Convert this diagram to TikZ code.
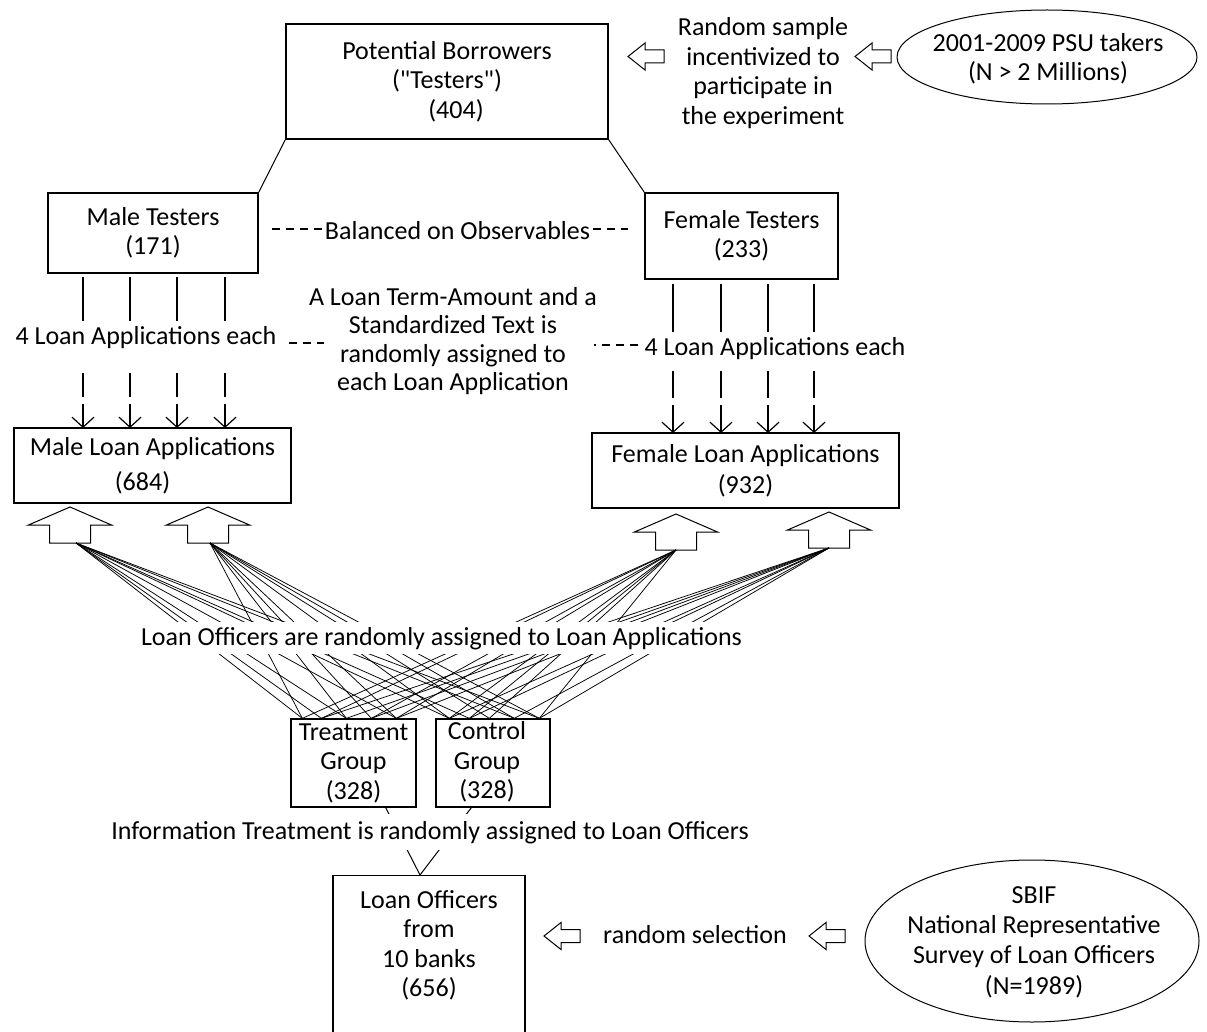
\documentclass[tikz,border=0pt]{standalone}
\usepackage{fontspec}
\setmainfont{Carlito}[Ligatures=TeXOff]
\usetikzlibrary{arrows.meta,shapes.geometric}
\begin{document}
\begin{tikzpicture}[x=1pt,y=-1pt,
  every node/.style={font=\fontsize{26}{29.5}\selectfont, inner sep=0pt, align=center},
  box/.style={draw, line width=1.3pt},
  oval/.style={draw, ellipse, line width=1pt},
  link/.style={line width=1pt},
  fan/.style={line width=0.75pt},
  dsh/.style={line width=1.2pt, dash pattern=on 8pt off 6pt},
  solidv/.style={line width=1.2pt},
  barb/.style={-{Straight Barb[length=10pt,width=22pt]}},
  dashvm/.style={line width=1.2pt, barb, dash pattern=on 24pt off 7pt},
  dashvf/.style={line width=1.2pt, barb, dash pattern=on 27pt off 7pt},
  cover/.style={fill=white, inner xsep=2pt},
  uparr/.pic={\draw[line width=1pt,fill=white] (0,0) -- (41.5,18) -- (20.5,18) -- (20.5,36) -- (-20.5,36) -- (-20.5,18) -- (-41.5,18) -- cycle; \coordinate (-bot) at (0,36);},
  leftarr/.pic={\draw[line width=1pt,fill=white] (0,0) -- (17,-13.5) -- (17,-6.5) -- (36,-6.5) -- (36,6.5) -- (17,6.5) -- (17,13.5) -- cycle;}
]
\useasboundingbox (0,0) rectangle (1207,1032);

% top row
\node[box, minimum width=322, minimum height=115] (pb) at (447,81.5) {Potential Borrowers\\("Testers")\\\hspace*{18pt}(404)};
\node (rs) at (763,73) {Random sample\\incentivized to\\participate in\\the experiment};
\node[oval, minimum width=300, minimum height=94] (psu) at (1047,57) {};
\node (psutext) at (1048,59) {2001-2009 PSU takers\\(N > 2 Millions)};
\pic at (628,56.5) {leftarr};
\pic at (855,56.5) {leftarr};

% testers
\node[box, minimum width=210, minimum height=80] (male) at (153,233) {Male Testers\\(171)};
\node[box, minimum width=193, minimum height=86] (female) at (741.5,236) {Female Testers\\(233)};
\draw[link] (pb.south west) -- (male.north east);
\draw[link] (pb.south east) -- (female.north west);
\node (bal) at (457.5,231) {Balanced on Observables};
\draw[dsh] ([xshift=-3pt,yshift=2pt]bal.west) -- ([xshift=11pt,yshift=2pt]bal.west -| male.east);
\draw[dsh] ([xshift=3pt,yshift=2pt]bal.east) -- ([xshift=-16pt,yshift=2pt]bal.east -| female.west);

% loan application boxes
\node[box, minimum width=277, minimum height=75, font=\fontsize{26}{35}\selectfont] (mla) at (152.5,465.5) {Male Loan Applications\\(684)\hspace*{20pt}};
\node[box, minimum width=307, minimum height=75, font=\fontsize{26}{31}\selectfont] (fla) at (745.5,470.5) {Female Loan Applications\\(932)};

\node (mlab) at (146,338) {4 Loan Applications each};
\node (flab) at (775,349) {4 Loan Applications each};
\node[font=\fontsize{26}{28.5}\selectfont] (mid) at (453,341) {A Loan Term-Amount and a\\Standardized Text is\\randomly assigned to\\each Loan Application};
\draw[dsh] ([xshift=12pt,yshift=-5pt]mlab.east) -- ([xshift=47pt,yshift=-5pt]mlab.east);
\draw[dsh] ([xshift=-6pt,yshift=4pt]flab.west) -- ([xshift=-50pt,yshift=4pt]flab.west);

\foreach \x in {83,130,177,225} {
  \draw[solidv] (\x,277) -- (\x,321);
  \draw[dashvm] (\x,373) -- (\x,428);
}
\foreach \x in {673,721,768,814} {
  \draw[solidv] (\x,284) -- (\x,332);
  \draw[dashvf] (\x,371) -- (\x,433);
}

% block arrows
\pic (a1) at (70,507) {uparr};
\pic (a2) at (208,507) {uparr};
\pic (a3) at (676,514) {uparr};
\pic (a4) at (829,512) {uparr};

% treatment / control
\node[box, minimum width=125, minimum height=88] (tr) at (353.5,763) {Treatment\\Group\\(328)};
\node[box, minimum width=114, minimum height=88] (ctl) at (493,763) {};
\node (ctltext) at (487,762) {Control\\Group\\(328)};

\coordinate (t1) at ([xshift=12pt]tr.north west);
\coordinate (t2) at ([xshift=31pt]tr.north west);
\coordinate (t3) at ([xshift=56pt]tr.north west);
\coordinate (t4) at ([xshift=81pt]tr.north west);
\coordinate (t5) at ([xshift=106pt]tr.north west);
\coordinate (c1) at ([xshift=14pt]ctl.north west);
\coordinate (c2) at ([xshift=34pt]ctl.north west);
\coordinate (c3) at ([xshift=54pt]ctl.north west);
\coordinate (c4) at ([xshift=79pt]ctl.north west);
\coordinate (c5) at ([xshift=104pt]ctl.north west);

\foreach \p in {t1,t2,t3,t5,c1,c2,c4,c5} \draw[fan] ([xshift=6pt]a1-bot) -- (\p);
\foreach \p in {t1,t3,t4,t5,c1,c3,c4,c5} \draw[fan] ([xshift=2pt]a2-bot) -- (\p);
\foreach \p in {t1,t2,t4,t5,c1,c2,c3,c5} \draw[fan] (a3-bot) -- (\p);
\foreach \p in {t2,t3,t4,t5,c1,c2,c4,c5} \draw[fan] (a4-bot) -- (\p);

\node[cover, inner ysep=5pt, anchor=base] (assign) at (441.5,645) {Loan Officers are randomly assigned to Loan Applications};

% loan officers
\node[box, minimum width=192, minimum height=200, anchor=north] (lob) at (429,875) {};
\node (lot) at (429,945.5) {Loan Officers\\from\\10 banks\\(656)};
\draw[link] ([xshift=-31pt]tr.south east) -- ([xshift=-9pt]lob.north);
\draw[link] ([xshift=36pt]ctl.south west) -- ([xshift=-9pt]lob.north);
\node[cover, inner ysep=6.5pt, anchor=base] (info) at (430,839) {Information Treatment is randomly assigned to Loan Officers};

\node (rsel) at (695,935) {random selection};
\pic at (544,936) {leftarr};
\pic at (809,936) {leftarr};
\node[oval, minimum width=334, minimum height=162] (sbif) at (1032,941) {};
\node[font=\fontsize{26}{30.3}\selectfont] (sbiftext) at (1034,942) {SBIF\\National Representative\\Survey of Loan Officers\\(N=1989)};
\end{tikzpicture}
\end{document}
